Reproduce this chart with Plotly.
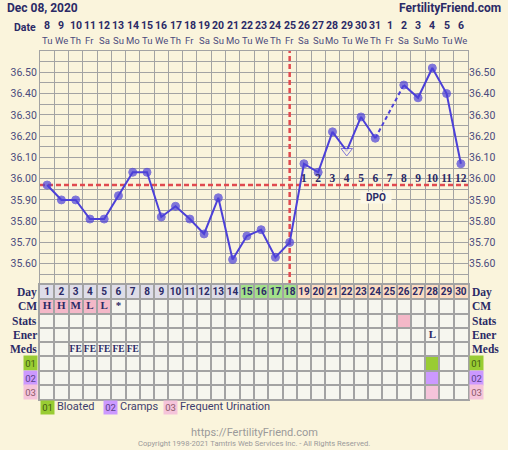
import plotly.graph_objects as go

# ---- data ----
days = list(range(1, 31))
dates = ['8', '9', '10', '11', '12', '13', '14', '15', '16', '17', '18', '19', '20', '21', '22',
         '23', '24', '25', '26', '27', '28', '29', '30', '31', '1', '2', '3', '4', '5', '6']
weekdays = ['Tu', 'We', 'Th', 'Fr', 'Sa', 'Su', 'Mo', 'Tu', 'We', 'Th', 'Fr', 'Sa', 'Su', 'Mo', 'Tu',
            'We', 'Th', 'Fr', 'Sa', 'Su', 'Mo', 'Tu', 'We', 'Th', 'Fr', 'Sa', 'Su', 'Mo', 'Tu', 'We']
temps = [35.97, 35.90, 35.90, 35.81, 35.81, 35.92, 36.03, 36.03, 35.82, 35.87,
         35.81, 35.74, 35.91, 35.62, 35.73, 35.76, 35.63, 35.70, 36.07, 36.03,
         36.22, 36.13, 36.29, 36.19, None, 36.44, 36.38, 36.52, 36.40, 36.07]
excluded_days = [22]
coverline = 35.97
ovulation_day = 18
fertile_days = [15, 16, 17, 18]
dpo_days = list(range(19, 31))
dpo_labels = [str(i) for i in range(1, 13)]
temp_ticks = ['35.60', '35.70', '35.80', '35.90', '36.00', '36.10', '36.20', '36.30', '36.40', '36.50']

cm_days = [1, 2, 3, 4, 5, 6]
cm_codes = ['H', 'H', 'M', 'L', 'L', '*']
stats_days = [26]
ener_days = [28]
ener_codes = ['L']
meds_days = [3, 4, 5, 6, 7]
meds_codes = ['FE', 'FE', 'FE', 'FE', 'FE']
symptom_codes = ['01', '02', '03']
symptom_names = ['Bloated', 'Cramps', 'Frequent Urination']
symptom_days = [[28], [28], [28]]

row_labels = ['Day', 'CM', 'Stats', 'Ener', 'Meds']

# ---- styling ----
W, H = 508, 450
BG = '#faf4dc'
CELL = '#f6f6ef'
NAVY = '#2b2a66'
GREY_NAVY = '#4b4b7d'
BLUE = '#4c40d8'
RED = '#e04a4f'
GRID = '#a3a3a3'
SYM_COLORS = ['#99cc33', '#cc99ff', '#f5c4da']
SYM_TEXT = ['#3f5a12', '#5a3f8a', '#8a5a6a']
SERIF = 'Liberation Serif'
SANS = 'Roboto'

left_px, right_px = 40, 468
temp_top, temp_bot = 51, 285
tab_bot = 399


def py(px):
    return 1 - px / H


fig = go.Figure()

# cover line and ovulation line
fig.add_trace(go.Scatter(x=[0.5, 30.5], y=[coverline, coverline], mode='lines',
                         line=dict(color=RED, width=2.5, dash='5px,3px'), hoverinfo='skip'))
fig.add_trace(go.Scatter(x=[ovulation_day, ovulation_day], y=[35.5, 36.6], mode='lines',
                         line=dict(color=RED, width=2.5, dash='5px,3px'), hoverinfo='skip'))

# dashed segment over missing day
gap = temps.index(None)
fig.add_trace(go.Scatter(x=[days[gap - 1], days[gap + 1]], y=[temps[gap - 1], temps[gap + 1]],
                         mode='lines', line=dict(color=BLUE, width=2, dash='4px,3px')))

symbols = ['triangle-down' if d in excluded_days else 'circle' for d in days]
mcolors = [BG if d in excluded_days else BLUE for d in days]
msizes = [10 if d in excluded_days else 8 for d in days]
fig.add_trace(go.Scatter(x=days, y=temps, mode='lines+markers', connectgaps=False,
                         line=dict(color=BLUE, width=2),
                         marker=dict(symbol=symbols, color=mcolors, size=msizes,
                                     line=dict(color=BLUE, width=1))))

# DPO numbers
fig.add_trace(go.Scatter(x=dpo_days, y=[36.0] * len(dpo_days), mode='text', text=dpo_labels,
                         textfont=dict(family=SERIF, size=11.5, color=NAVY, weight='bold')))

# right axis helper
fig.add_trace(go.Scatter(x=[None], y=[None], yaxis='y3', showlegend=False))

# ---- table ----
day_colors = []
for d in days:
    if d in fertile_days:
        day_colors.append('#a3e08a')
    elif d > ovulation_day:
        day_colors.append('#fcdcc2')
    else:
        day_colors.append('#dedde8')

shapes = [dict(type='rect', xref='x2', yref='y2', x0=0.5, x1=30.5, y0=0, y1=8,
               fillcolor=CELL, line=dict(width=0), layer='below')]
for d, c in zip(days, day_colors):
    shapes.append(dict(type='rect', xref='x2', yref='y2', x0=d - 0.5, x1=d + 0.5, y0=0, y1=1,
                       fillcolor=c, line=dict(width=0), layer='below'))
for d, c in zip(cm_days, cm_codes):
    if c != '*':
        shapes.append(dict(type='rect', xref='x2', yref='y2', x0=d - 0.5, x1=d + 0.5, y0=1, y1=2,
                           fillcolor='#f4b8c8', line=dict(width=0), layer='below'))
for d in stats_days:
    shapes.append(dict(type='rect', xref='x2', yref='y2', x0=d - 0.5, x1=d + 0.5, y0=2, y1=3,
                       fillcolor='#f4b8c8', line=dict(width=0), layer='below'))
for i, sd in enumerate(symptom_days):
    for d in sd:
        shapes.append(dict(type='rect', xref='x2', yref='y2', x0=d - 0.5, x1=d + 0.5,
                           y0=5 + i, y1=6 + i, fillcolor=SYM_COLORS[i], line=dict(width=0),
                           layer='below'))

fig.add_trace(go.Scatter(x=days, y=[0.5] * 30, mode='text', text=[str(d) for d in days],
                         xaxis='x2', yaxis='y2',
                         textfont=dict(family=SANS, size=10, color=NAVY, weight='bold')))
fig.add_trace(go.Scatter(x=cm_days, y=[1.5] * len(cm_days), mode='text', text=cm_codes,
                         xaxis='x2', yaxis='y2',
                         textfont=dict(family=SERIF, size=11, color=NAVY, weight='bold')))
fig.add_trace(go.Scatter(x=ener_days, y=[3.5] * len(ener_days), mode='text', text=ener_codes,
                         xaxis='x2', yaxis='y2',
                         textfont=dict(family=SERIF, size=11, color=NAVY, weight='bold')))
fig.add_trace(go.Scatter(x=meds_days, y=[4.5] * len(meds_days), mode='text', text=meds_codes,
                         xaxis='x2', yaxis='y2',
                         textfont=dict(family=SERIF, size=9.5, color=NAVY, weight='bold')))

ann = []
# header
ann.append(dict(text='Dec 08, 2020', x=5 / W, y=py(8), xref='paper', yref='paper',
                xanchor='left', yanchor='middle', showarrow=False,
                font=dict(family=SANS, size=12, color=NAVY, weight='bold')))
ann.append(dict(text='FertilityFriend.com', x=503 / W, y=py(8), xref='paper', yref='paper',
                xanchor='right', yanchor='middle', showarrow=False,
                font=dict(family=SANS, size=12, color=NAVY, weight='bold')))
ann.append(dict(text='Date', x=38 / W, y=py(28), xref='paper', yref='paper',
                xanchor='right', yanchor='middle', showarrow=False,
                font=dict(family=SANS, size=10.5, color=NAVY, weight='bold')))
for d, dt, wd in zip(days, dates, weekdays):
    ann.append(dict(text=dt, x=d, y=py(25), xref='x', yref='paper', showarrow=False,
                    yanchor='middle', font=dict(family=SANS, size=10.5, color=NAVY, weight='bold')))
    ann.append(dict(text=wd, x=d, y=py(40), xref='x', yref='paper', showarrow=False,
                    yanchor='middle', font=dict(family=SANS, size=9.5, color=GREY_NAVY)))

ann.append(dict(text='DPO', x=24.05, y=35.913, xref='x', yref='y', showarrow=False,
                bgcolor='#fbf8e8', width=30, height=11, borderpad=0,
                font=dict(family=SANS, size=10, color=NAVY, weight='bold')))

# row labels
for i, lab in enumerate(row_labels):
    ann.append(dict(text=lab, x=38.5 / W, y=i + 0.5, xref='paper', yref='y2', xanchor='right',
                    yanchor='middle', showarrow=False,
                    font=dict(family=SERIF, size=11.5, color=NAVY, weight='bold')))
    ann.append(dict(text=lab, x=469.5 / W, y=i + 0.5, xref='paper', yref='y2', xanchor='left',
                    yanchor='middle', showarrow=False,
                    font=dict(family=SERIF, size=11.5, color=NAVY, weight='bold')))
for i, code in enumerate(symptom_codes):
    ann.append(dict(text=code, x=38 / W, y=5.5 + i, xref='paper', yref='y2', xanchor='right',
                    yanchor='middle', showarrow=False, bgcolor=SYM_COLORS[i], width=13, height=14,
                    borderpad=0, font=dict(family=SANS, size=9.5, color=SYM_TEXT[i])))
    ann.append(dict(text=code, x=469 / W, y=5.5 + i, xref='paper', yref='y2', xanchor='left',
                    yanchor='middle', showarrow=False, bgcolor=SYM_COLORS[i], width=13, height=14,
                    borderpad=0, font=dict(family=SANS, size=9.5, color=SYM_TEXT[i])))

# symptom legend
legend_x = [40, 103, 163]
for i, (code, name) in enumerate(zip(symptom_codes, symptom_names)):
    ann.append(dict(text=code, x=legend_x[i] / W, y=py(407), xref='paper', yref='paper',
                    xanchor='left', yanchor='middle', showarrow=False, bgcolor=SYM_COLORS[i],
                    width=13, height=13, borderpad=0,
                    font=dict(family=SANS, size=9.5, color=SYM_TEXT[i])))
    ann.append(dict(text=name, x=(legend_x[i] + 15) / W, y=py(406), xref='paper', yref='paper',
                    xanchor='left', yanchor='middle', showarrow=False,
                    font=dict(family=SANS, size=11, color='#3d3d6d')))

# footer
ann.append(dict(text='https://FertilityFriend.com', x=0.5, y=py(432), xref='paper', yref='paper',
                yanchor='middle', showarrow=False, font=dict(family=SANS, size=11, color='#9a9a9a')))
ann.append(dict(text='Copyright 1998-2021 Tamtris Web Services Inc. - All Rights Reserved.',
                x=0.5, y=py(443), xref='paper', yref='paper', yanchor='middle', showarrow=False,
                font=dict(family=SANS, size=7.6, color='#9a9a9a')))

grid_vals = [35.5 + 0.05 * i for i in range(23)]
grid_text = []
for v in grid_vals:
    s = '%.2f' % v
    grid_text.append(s if s in temp_ticks else '')

xdom = [left_px / W, right_px / W]
temp_axis = dict(range=[35.5, 36.6], domain=[py(temp_bot), py(temp_top)], tickvals=grid_vals,
                 ticktext=grid_text, showgrid=True, gridcolor=GRID, gridwidth=1, zeroline=False,
                 ticks='', tickfont=dict(family=SANS, size=10.5, color=GREY_NAVY))

fig.update_layout(
    width=W, height=H, margin=dict(l=0, r=0, t=0, b=0),
    paper_bgcolor=BG, plot_bgcolor=BG, showlegend=False,
    xaxis=dict(domain=xdom, range=[0.5, 30.5], anchor='y', tickvals=[d + 0.5 for d in range(31)],
               showticklabels=False, showgrid=True, gridcolor=GRID, zeroline=False,
               showline=True, linecolor=GRID, mirror=True, ticks=''),
    yaxis=dict(**temp_axis, anchor='x', side='left', showline=True, linecolor=GRID, mirror=True),
    yaxis3=dict(**{k: v for k, v in temp_axis.items() if k != 'showgrid'}, showgrid=False,
                overlaying='y', anchor='x', side='right'),
    xaxis2=dict(domain=xdom, range=[0.5, 30.5], anchor='y2', tickvals=[d + 0.5 for d in range(31)],
                showticklabels=False, showgrid=True, gridcolor=GRID, gridwidth=1.5, zeroline=False,
                showline=True, linecolor=GRID, linewidth=1.5, mirror=True, ticks=''),
    yaxis2=dict(domain=[py(tab_bot), py(temp_bot)], range=[8, 0], anchor='x2',
                tickvals=list(range(9)), showticklabels=False, showgrid=True, gridcolor=GRID,
                gridwidth=1.5, zeroline=False, showline=True, linecolor=GRID, linewidth=1.5,
                mirror=True, ticks=''),
    shapes=shapes, annotations=ann,
)

fig.write_html('out.html', config={'displayModeBar': False},
               post_script="document.body.style.margin='0';")
